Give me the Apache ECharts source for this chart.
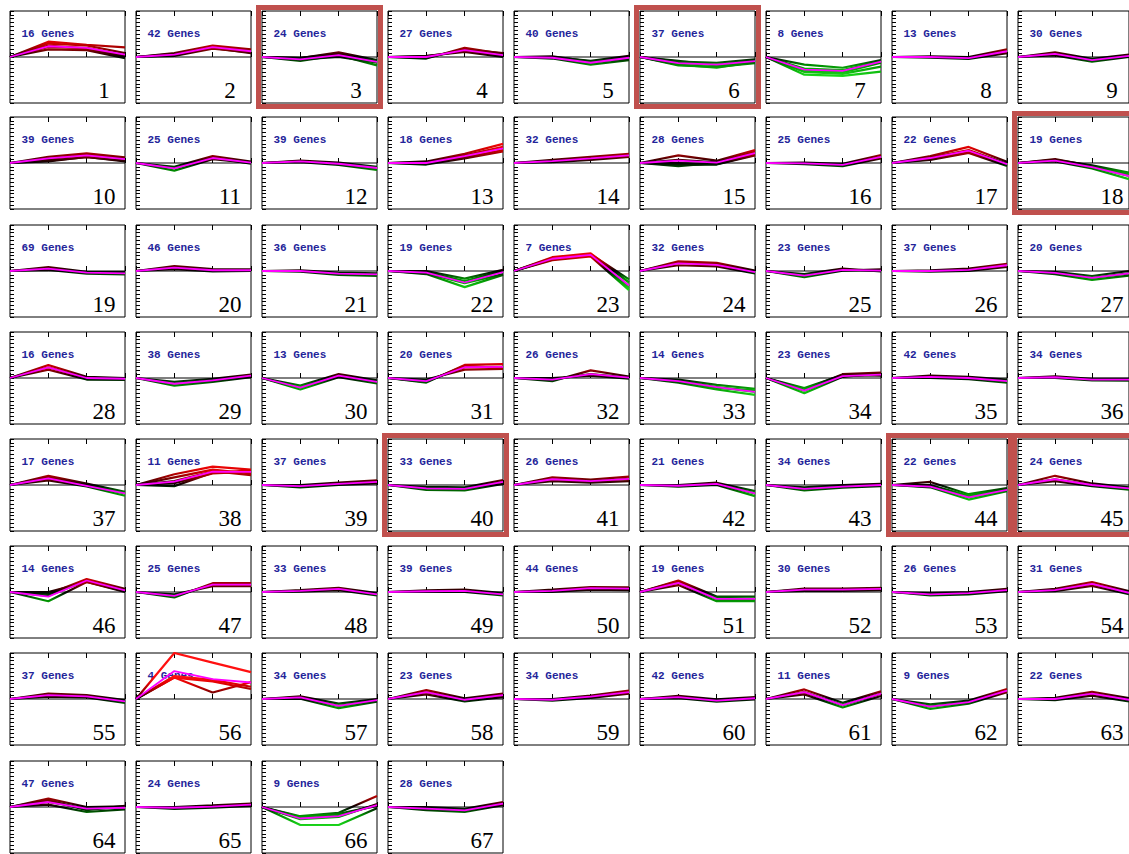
<!DOCTYPE html>
<html>
<head>
<meta charset="utf-8">
<title>Gene expression profile clusters</title>
<script src="https://cdn.jsdelivr.net/npm/echarts@6/dist/echarts.min.js"></script>
<style>
  html, body { margin: 0; padding: 0; background: #ffffff; }
  #chart { width: 1129px; height: 854px; }
</style>
</head>
<body>
<div id="chart"></div>
<script>
// Four sampling time points shared by every profile
const timePoints = [0, 1, 2, 3];

// Number of genes assigned to each profile (profiles 1..67)
const geneCounts = [
  16, 42, 24, 27, 40, 37, 8, 13, 30,
  39, 25, 39, 18, 32, 28, 25, 22, 19,
  69, 46, 36, 19, 7, 32, 23, 37, 20,
  16, 38, 13, 20, 26, 14, 23, 42, 34,
  17, 11, 37, 33, 26, 21, 34, 22, 24,
  14, 25, 33, 39, 44, 19, 30, 26, 31,
  37, 4, 34, 23, 34, 42, 11, 9, 22,
  47, 24, 9, 28
];

// Profiles marked as significant
const highlighted = [3, 6, 18, 40, 44, 45];

// Model profile of each cluster (log ratio vs. time 0)
const meanProfiles = [
  [0, 2.8, 2.4, 0.6], [0, 0.6, 2.6, 1.5], [0, -0.6, 0.5, -1.3], [0, 0, 1.8, 0.5], [0, -0.2, -1.5, -0.2],
  [0, -1.6, -2, -1.1], [0, -3.3, -3.6, -1.2], [0, 0, -0.3, 1.5], [0, 0.8, -0.8, 0.3], [0, 1.2, 2, 1],
  [0, -1.4, 1.3, 0.1], [0, 0.4, -0.2, -1.3], [0, 0, 1.8, 3.8], [0, 0.5, 1.2, 2], [0, 0.6, 0.1, 2.6],
  [0, -0.1, -0.5, 1.6], [0, 1.3, 3.2, -0.3], [0, 0.6, -1.1, -3.4], [0, 0.6, -0.4, -0.6], [0, 0.9, 0.2, 0.2],
  [0, 0, -0.7, -0.9], [0, -0.4, -3, -0.3], [0, 3.2, 4.2, -3.8], [0, 2, 1.6, -0.3], [0, -1.2, 0.3, 0.1],
  [0, 0, 0.3, 1.5], [0, -0.5, -1.8, -0.6], [0, 2.8, 0, -0.2], [0, -1.5, -0.6, 0.6], [0, -2.5, 0.6, -1],
  [0, -0.8, 2.8, 2.9], [0, -0.4, 1, 0.1], [0, -0.8, -2.4, -3.6], [0, -3.3, 0.5, 0.9], [0, 0.3, 0, -0.8],
  [0, 0.2, -0.4, -0.4], [0, 1.7, -0.2, -2.2], [0, 0.9, 3.5, 3.4], [0, -0.3, 0.3, 0.8], [0, -0.9, -1, 0.8],
  [0, 1.5, 1, 1.6], [0, -0.2, 0.3, -2.2], [0, -1, -0.4, 0], [0, -0.4, -3.2, -1.3], [0, 1.5, 0, -0.9],
  [0, -1.2, 3, 0.4], [0, -1, 1.9, 1.9], [0, 0.3, 0.8, -0.6], [0, 0.2, 0.3, -0.6], [0, 0.3, 1, 0.9],
  [0, 2.4, -1.8, -1.8], [0, 0.6, 0.6, 0.8], [0, -0.6, -0.3, 0.5], [0, 0.5, 2.1, -0.2], [0, 1, 0.7, -0.6],
  [0, 7.3, 5.2, 4.3], [0, 0.4, -1.8, -0.3], [0, 1.8, -0.2, 1], [0, -0.2, 0.6, 1.8], [0, 0.5, -0.4, 0.2],
  [0, 1.8, -1.6, 1.4], [0, -2, -0.8, 2.2], [0, 0, 1.4, -0.2], [0, 1.3, -0.4, -0.2], [0, -0.2, 0.1, 0.6],
  [0, -3, -2.4, 0.5], [0, -0.4, -0.9, 0.9]
];

// Individual gene profiles drawn inside each cluster
const geneProfiles = [
  [[0, 4, 3.2, 2.5], [0, 3.5, 3, 1], [0, 2.6, 2.4, 0.4], [0, 2, 1.8, -0.3], [0, 3, 2.2, 0]],
  [[0, 0.3, 2.2, 1.2], [0, 1, 3, 2], [0, 0.5, 2.6, 1.8], [0, 0.8, 2.4, 1]],
  [[0, -0.3, 1.2, -0.8], [0, -1, 0.5, -2.2], [0, -0.6, 0, -1.5], [0, -0.2, 0.8, -1]],
  [[0, -0.4, 2.4, 0.8], [0, 0.2, 1.6, 0.2], [0, -0.2, 2, 1], [0, 0.3, 1.3, 0]],
  [[0, 0, -1, 0.3], [0, -0.4, -2, -0.8], [0, -0.2, -1.6, 0], [0, 0.2, -1.2, -0.5]],
  [[0, -1.2, -1.5, -0.6], [0, -2.2, -2.6, -1.6], [0, -1.6, -2, -1], [0, -1, -2.2, -1.4], [0, -2, -2.8, -1.3]],
  [[0, -2, -2.8, -0.8], [0, -3, -3.4, -1.2], [0, -3.6, -4, -1.5], [0, -4.6, -4.9, -3.8], [0, -3.9, -4.4, -2.5]],
  [[0, 0.2, 0, 2], [0, -0.2, -0.5, 1], [0, 0, -0.3, 1.6]],
  [[0, 1.2, -0.5, 0.6], [0, 0.4, -1.2, 0], [0, 0.8, -0.8, 0.3]],
  [[0, 0.6, 1.5, 0.6], [0, 1.6, 2.5, 1.5], [0, 1, 2.2, 1.2], [0, 0.4, 1.6, 0.4]],
  [[0, -2, 1, 0], [0, -1, 1.8, 0.4], [0, -1.3, 1.4, -0.2]],
  [[0, 0.6, 0.1, -1], [0, 0.2, -0.5, -1.8], [0, 0.4, -0.3, -1.4]],
  [[0, -0.4, 1.2, 3], [0, 0.4, 2.4, 5], [0, 0.2, 2, 4.2], [0, -0.2, 1.5, 3.4]],
  [[0, 0.2, 0.8, 1.6], [0, 0.8, 1.6, 2.4], [0, 0.4, 1.2, 2]],
  [[0, 2, 0.6, 3.4], [0, -0.5, -0.4, 2], [0, 0.8, 0.2, 3], [0, 0, -0.3, 2.2], [0, -0.8, 0, 2.5]],
  [[0, 0.1, -0.2, 2.1], [0, -0.3, -0.8, 1.2], [0, 0, -0.5, 1.6]],
  [[0, 1.8, 4.2, 0.3], [0, 0.8, 2.6, -0.8], [0, 1.4, 3.4, -0.2], [0, 1, 2.8, -0.5]],
  [[0, 0.8, -0.6, -2.5], [0, 0.4, -1.4, -4.2], [0, 0.6, -1, -3.4], [0, 1, -0.8, -3]],
  [[0, 1, -0.2, -0.3], [0, 0.3, -0.7, -0.9], [0, 0.6, -0.4, -0.6]],
  [[0, 1.3, 0.5, 0.4], [0, 0.5, -0.1, 0], [0, 0.9, 0.2, 0.2]],
  [[0, 0.2, -0.4, -0.6], [0, -0.2, -1, -1.3], [0, 0, -0.7, -0.9]],
  [[0, 0, -2, 0.3], [0, -0.6, -3.2, -0.8], [0, -0.8, -4.2, -1], [0, -0.3, -2.6, 0]],
  [[0, 3.6, 4.6, -3], [0, 2.8, 3.8, -5], [0, 3.2, 4.4, -2.2], [0, 3, 4, -4.6], [0, 3.4, 4.2, -4]],
  [[0, 2.5, 2.1, 0.1], [0, 1.5, 1.2, -0.6], [0, 2.2, 1.8, -0.2]],
  [[0, -1.6, 0.1, 0.4], [0, -0.8, 0.6, -0.1], [0, -1.2, 0.3, 0.1]],
  [[0, 0.2, 0.6, 1.9], [0, -0.2, 0, 1.1], [0, 0, 0.3, 1.5]],
  [[0, -0.2, -1.3, 0], [0, -0.8, -2.3, -1.2], [0, -0.5, -1.8, -0.6]],
  [[0, 3.4, 0.3, 0], [0, 2.2, -0.4, -0.5], [0, 2.8, 0, -0.2]],
  [[0, -1, -0.2, 0.9], [0, -2, -1, 0.2], [0, -1.5, -0.6, 0.6]],
  [[0, -3, 0.2, -1.4], [0, -2, 1, -0.6], [0, -2.5, 0.6, -1]],
  [[0, -1.2, 3.4, 3.6], [0, -0.4, 2.2, 2.4], [0, -0.8, 2.8, 2.9], [0, -1, 3.2, 2.6]],
  [[0, -0.8, 2, 0.4], [0, 0, 0.6, -0.2], [0, -0.4, 1, 0.1]],
  [[0, -0.4, -1.8, -2.8], [0, -1.2, -3, -4.4], [0, -0.8, -2.4, -3.6], [0, -0.6, -2.6, -3.2]],
  [[0, -4, 0.3, 1.2], [0, -2.6, 0.8, 0.6], [0, -3.3, 0.5, 0.9], [0, -3, 1, 1.4]],
  [[0, 0.6, 0.3, -0.4], [0, 0, -0.3, -1.2], [0, 0.3, 0, -0.8]],
  [[0, 0.4, -0.2, -0.2], [0, 0, -0.6, -0.7], [0, 0.2, -0.4, -0.4]],
  [[0, 2.4, 0.4, -1.8], [0, 1.2, -0.4, -2.8], [0, 1.7, -0.2, -2.2], [0, 2, 0.2, -2]],
  [[0, 2.8, 4.8, 4], [0, 0.5, 3, 3.5], [0, 1, 3.6, 2.6], [0, -0.3, 3.2, 3.8], [0, 2, 4, 3]],
  [[0, 0, 0.6, 1.2], [0, -0.6, 0, 0.4], [0, -0.3, 0.3, 0.8]],
  [[0, -0.5, -0.6, 1.3], [0, -1.3, -1.4, 0.3], [0, -0.9, -1, 0.8]],
  [[0, 2, 1.4, 2.2], [0, 1, 0.6, 1], [0, 1.5, 1, 1.6]],
  [[0, 0, 0.6, -1.6], [0, -0.4, 0, -2.9], [0, -0.2, 0.3, -2.2]],
  [[0, -0.6, 0, 0.3], [0, -1.4, -0.7, -0.3], [0, -1, -0.4, 0]],
  [[0, 0.8, -2.4, -0.8], [0, -0.6, -3.8, -1.6], [0, -0.4, -3.2, -1.3], [0, 0, -2.8, -1]],
  [[0, 2.4, 0.4, -0.6], [0, 1, -0.3, -1.2], [0, 1.5, 0, -0.9]],
  [[0, -2.4, 2.6, 0], [0, -0.5, 3.4, 0.8], [0, -1, 3, 0.4], [0, 0, 2.6, 0.2]],
  [[0, -1.4, 2.3, 2.3], [0, -0.6, 1.5, 1.5], [0, -1, 1.9, 1.9]],
  [[0, 0.5, 1.1, -0.3], [0, 0.1, 0.5, -0.9], [0, 0.3, 0.8, -0.6]],
  [[0, 0.4, 0.6, -0.3], [0, 0, 0, -0.9], [0, 0.2, 0.3, -0.6]],
  [[0, 0.6, 1.3, 1.2], [0, 0, 0.6, 0.5], [0, 0.3, 1, 0.9]],
  [[0, 3, -1.2, -1.2], [0, 1.8, -2.4, -2.4], [0, 2.4, -1.8, -1.8], [0, 2.8, -1.4, -2]],
  [[0, 0.9, 0.9, 1.1], [0, 0.3, 0.3, 0.5], [0, 0.6, 0.6, 0.8]],
  [[0, -0.3, 0, 0.8], [0, -0.9, -0.6, 0.2], [0, -0.6, -0.3, 0.5]],
  [[0, 0.8, 2.6, 0.2], [0, 0.2, 1.6, -0.6], [0, 0.5, 2.1, -0.2]],
  [[0, 1.4, 1, -0.3], [0, 0.6, 0.4, -1], [0, 1, 0.7, -0.6]],
  [[0, 12, 9.5, 7], [0, 6, 5, 3.2], [0, 5.6, 4.6, 2.6], [0, 5.6, 1.7, 4.4]],
  [[0, 0.7, -1.2, 0], [0, 0.1, -2.4, -0.7], [0, 0.4, -1.8, -0.3]],
  [[0, 2.3, 0.2, 1.4], [0, 1.2, -0.6, 0.5], [0, 1.8, -0.2, 1]],
  [[0, 0, 0.9, 2.2], [0, -0.4, 0.3, 1.4], [0, -0.2, 0.6, 1.8]],
  [[0, 0.8, -0.1, 0.5], [0, 0.2, -0.7, -0.1], [0, 0.5, -0.4, 0.2]],
  [[0, 2.5, -1, 2], [0, 1.2, -2.2, 0.8], [0, 1.8, -1.6, 1.4]],
  [[0, -2.6, -1.2, 1.8], [0, -1.4, -0.4, 2.6], [0, -2, -0.8, 2.2]],
  [[0, 0.3, 1.9, 0.2], [0, -0.3, 0.9, -0.6], [0, 0, 1.4, -0.2]],
  [[0, 2.2, 0, 0.2], [0, 0.6, -1.3, -0.6], [0, 1.3, -0.4, -0.2], [0, 1.8, -0.8, 0.3]],
  [[0, 0, 0.4, 0.9], [0, -0.5, -0.2, 0.3], [0, -0.2, 0.1, 0.6]],
  [[0, -4.7, -4.7, -0.3], [0, -2.6, -1.8, 0.3], [0, -3, -2.2, 0.6], [0, -2.4, -1.5, 2.9], [0, -3.2, -2.6, 0.8]],
  [[0, 0, -0.5, 1.3], [0, -0.8, -1.3, 0.5], [0, -0.4, -0.9, 0.9]]
];

// Panel layout: 9 columns, rows stacked downward
const COLS = 9;
const colLeft = [10, 136, 262, 388, 514, 640, 766, 892, 1018];
const rowTop = [11, 117, 225, 332, 439, 546, 653, 761];
const PANEL_W = 115;
const PANEL_H = 92;
const Y_LIMIT = 12;

const grids = [];
const xAxes = [];
const yAxes = [];
const series = [];
const geneSeriesIdx = [];
const graphics = [];

const toPoints = (vals) => timePoints.map((t, k) => [t, vals[k]]);

meanProfiles.forEach((mean, i) => {
  const left = colLeft[i % COLS];
  const top = rowTop[Math.floor(i / COLS)];

  grids.push({
    left: left, top: top, width: PANEL_W, height: PANEL_H,
    show: true, backgroundColor: '#ffffff', borderColor: '#000000', borderWidth: 1
  });

  const xBase = {
    type: 'value', gridIndex: i, min: 0, max: timePoints.length - 1, interval: 1,
    axisLine: { show: false },
    axisTick: { show: true, inside: true, length: 5, lineStyle: { color: '#000000', width: 1 } },
    axisLabel: { show: false },
    splitLine: { show: false }
  };
  xAxes.push(Object.assign({ position: 'bottom' }, xBase));
  xAxes.push(Object.assign({ position: 'top' }, xBase));

  yAxes.push({
    type: 'value', gridIndex: i, min: -Y_LIMIT, max: Y_LIMIT, interval: 1,
    axisLine: { show: false },
    axisTick: { show: true, inside: true, length: 4, lineStyle: { color: '#000000', width: 1 } },
    axisLabel: { show: false },
    splitLine: { show: false }
  });

  // zero reference line
  series.push({
    type: 'line', xAxisIndex: 2 * i, yAxisIndex: i,
    data: toPoints(timePoints.map(() => 0)),
    symbol: 'none', silent: true, z: 1,
    lineStyle: { color: '#000000', width: 1 }
  });

  // individual genes, coloured by expression level
  geneProfiles[i].forEach((g) => {
    geneSeriesIdx.push(series.length);
    series.push({
      type: 'line', xAxisIndex: 2 * i, yAxisIndex: i,
      data: toPoints(g),
      symbol: 'none', showSymbol: false, silent: true, z: 2,
      lineStyle: { width: 2.2 }
    });
  });

  // cluster model profile
  series.push({
    type: 'line', xAxisIndex: 2 * i, yAxisIndex: i,
    data: toPoints(mean),
    symbol: 'none', silent: true, z: 3,
    lineStyle: { color: '#ff00ff', width: 1.8 }
  });

  graphics.push({
    type: 'text', x: left + 11.5, y: top + 23, z: 1, silent: true,
    style: {
      text: geneCounts[i] + ' Genes',
      font: 'bold 11px "Liberation Mono", "DejaVu Sans Mono", monospace',
      fill: '#24249a',
      align: 'left', textAlign: 'left',
      verticalAlign: 'middle', textVerticalAlign: 'middle'
    }
  });
  graphics.push({
    type: 'text', x: left + 94, y: top + 79, z: 20, silent: true,
    style: {
      text: String(i + 1),
      font: '23px "Liberation Serif", "Times New Roman", serif',
      fill: '#000000',
      align: 'center', textAlign: 'center',
      verticalAlign: 'middle', textVerticalAlign: 'middle'
    }
  });

  if (highlighted.includes(i + 1)) {
    graphics.push({
      type: 'rect', z: 30, silent: true,
      shape: { x: left - 3.5, y: top - 3.5, width: PANEL_W + 7, height: PANEL_H + 7 },
      style: { fill: 'none', stroke: '#c0504d', lineWidth: 5 }
    });
  }
});

const chart = echarts.init(document.getElementById('chart'), null, { renderer: 'svg' });
chart.setOption({
  animation: false,
  backgroundColor: '#ffffff',
  grid: grids,
  xAxis: xAxes,
  yAxis: yAxes,
  visualMap: {
    type: 'continuous',
    show: false,
    dimension: 1,
    seriesIndex: geneSeriesIdx,
    min: -12,
    max: 12,
    inRange: {
      color: ['#3cff3c', '#3cff3c', '#3cff3c', '#2ef02e', '#10c010', '#008a00', '#000000',
              '#900000', '#e00000', '#ff1010', '#ff1010', '#ff1010', '#ff1010']
    }
  },
  graphic: { elements: graphics },
  series: series
});
</script>
</body>
</html>
